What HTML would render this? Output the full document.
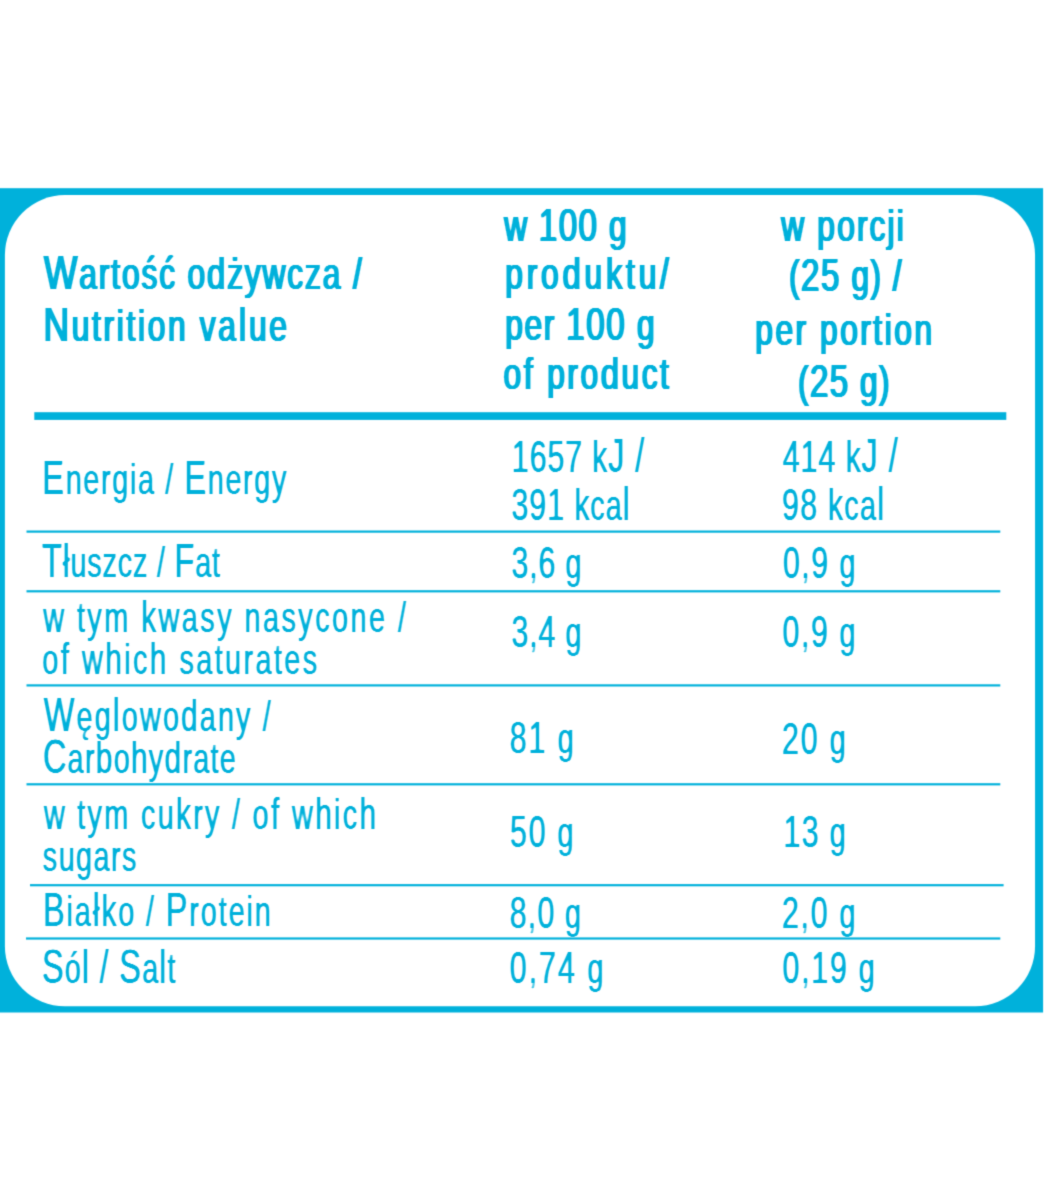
<!DOCTYPE html>
<html lang="pl">
<head>
<meta charset="utf-8">
<title>Wartość odżywcza / Nutrition value</title>
<style>
html,body{margin:0;padding:0;background:#fff;}
body{width:1044px;height:1200px;overflow:hidden;position:relative;}
svg{display:block;position:absolute;left:0;top:0;}
text{font-family:"Liberation Sans",sans-serif;font-weight:400;fill:#00b1db;}
.hd text{font-size:43.5px;}
.bd text{font-size:43px;}
</style>
</head>
<body>
<svg id="bg" width="1044" height="1200" viewBox="0 0 1044 1200">
<defs>
<filter id="soft" filterUnits="userSpaceOnUse" x="-10" y="170" width="1064" height="860" color-interpolation-filters="sRGB"><feConvolveMatrix order="3" kernelMatrix="0.0225 0.1050 0.0225 0.1050 0.4900 0.1050 0.0225 0.1050 0.0225" divisor="1" edgeMode="duplicate" preserveAlpha="false"/></filter>
<filter id="fhd" filterUnits="userSpaceOnUse" x="0" y="180" width="1044" height="840" color-interpolation-filters="sRGB"><feGaussianBlur stdDeviation="1.3 0"/><feComponentTransfer><feFuncA type="linear" slope="3.2500" intercept="-0.2800"/></feComponentTransfer><feConvolveMatrix order="3" kernelMatrix="0.0225 0.1050 0.0225 0.1050 0.4900 0.1050 0.0225 0.1050 0.0225" divisor="1" edgeMode="duplicate" preserveAlpha="false"/></filter>
<filter id="fbd" filterUnits="userSpaceOnUse" x="0" y="180" width="1044" height="840" color-interpolation-filters="sRGB"><feGaussianBlur stdDeviation="1 0"/><feComponentTransfer><feFuncA type="linear" slope="2.5000" intercept="-0.5750"/></feComponentTransfer><feConvolveMatrix order="3" kernelMatrix="0.0225 0.1050 0.0225 0.1050 0.4900 0.1050 0.0225 0.1050 0.0225" divisor="1" edgeMode="duplicate" preserveAlpha="false"/></filter>
</defs>
<rect x="0" y="0" width="1044" height="1200" fill="#fff"/>
<g id="bgsoft" filter="url(#soft)">
<g id="frame">
<rect x="-20" y="188.2" width="1063.1" height="824.3" fill="#00b1db"/>
<rect x="4.9" y="195.1" width="1030.15" height="811.1" rx="60" ry="60" fill="#fff"/>
</g>
<g id="rules" fill="#00b1db">
<rect x="34.3" y="412.2" width="972" height="7.7"/>
<rect x="26.5" y="530.5" width="973.8" height="2.2"/>
<rect x="26.5" y="590.2" width="973.8" height="2.2"/>
<rect x="26.5" y="684.3" width="973.8" height="2.2"/>
<rect x="26.5" y="783.2" width="973.8" height="2.2"/>
<rect x="30" y="884.1" width="973.6" height="2.2"/>
<rect x="26" y="937.4" width="974.3" height="2.2"/>
</g>
</g>
<g class="hd" filter="url(#fhd)">
<text id="t0" transform="translate(44.11 289.40) scale(0.7300 1)" letter-spacing="2.521"><tspan font-size="48.5">W</tspan>artość o<tspan font-size="45">d</tspan>żywcza /</text>
<text id="t1" transform="translate(43.39 341.20) scale(0.7300 1)" letter-spacing="3.659"><tspan font-size="48.5">N</tspan>utrition va<tspan font-size="46.5">l</tspan>ue</text>
<text id="t2" transform="translate(504.31 240.60) scale(0.7300 1)" letter-spacing="1.874">w <tspan font-size="45.5">100 </tspan>g</text>
<text id="t3" transform="translate(505.32 288.90) scale(0.7300 1)" letter-spacing="5.133">pro<tspan font-size="45">d</tspan>u<tspan font-size="45">k</tspan>tu/</text>
<text id="t4" transform="translate(505.32 340.00) scale(0.7300 1)" letter-spacing="2.092">per <tspan font-size="45.5">100 </tspan>g</text>
<text id="t5" transform="translate(503.62 388.60) scale(0.7300 1)" letter-spacing="3.477">o<tspan font-size="45">f </tspan>pro<tspan font-size="45">d</tspan>uct</text>
<text id="t6" transform="translate(781.37 240.60) scale(0.7300 1)" letter-spacing="2.907">w porcji</text>
<text id="t7" transform="translate(789.02 290.80) scale(0.7300 1)" letter-spacing="1.963">(<tspan font-size="45.5">25 </tspan>g) /</text>
<text id="t8" transform="translate(755.32 345.00) scale(0.7300 1)" letter-spacing="3.415">per portion</text>
<text id="t9" transform="translate(798.02 397.10) scale(0.7300 1)" letter-spacing="1.779">(<tspan font-size="45.5">25 </tspan>g)</text>
</g>
<g class="bd" filter="url(#fbd)">
<text id="t10" transform="translate(42.35 494.40) scale(0.6750 1)" letter-spacing="2.291"><tspan font-size="48.3">E</tspan>nergia / <tspan font-size="48.3">E</tspan>nergy</text>
<text id="t11" transform="translate(511.83 471.70) scale(0.6750 1)" letter-spacing="1.246"><tspan font-size="45.2">1657 </tspan><tspan font-size="44.5">k</tspan><tspan font-size="48.3">J /</tspan></text>
<text id="t12" transform="translate(511.44 520.30) scale(0.6750 1)" letter-spacing="1.326"><tspan font-size="45.2">391 </tspan><tspan font-size="44.5">k</tspan>ca<tspan font-size="46.5">l</tspan></text>
<text id="t13" transform="translate(782.67 471.70) scale(0.6750 1)" letter-spacing="1.353"><tspan font-size="45.2">414 </tspan><tspan font-size="44.5">k</tspan><tspan font-size="48.3">J /</tspan></text>
<text id="t14" transform="translate(782.01 520.30) scale(0.6750 1)" letter-spacing="1.764"><tspan font-size="45.2">98 </tspan><tspan font-size="44.5">k</tspan>ca<tspan font-size="46.5">l</tspan></text>
<text id="t15" transform="translate(42.12 576.60) scale(0.6750 1)" letter-spacing="1.062"><tspan font-size="48.3">T</tspan><tspan font-size="46.5">ł</tspan>uszcz / <tspan font-size="48.3">F</tspan>at</text>
<text id="t16" transform="translate(511.44 578.00) scale(0.6750 1)" letter-spacing="1.194"><tspan font-size="45.2">3,6 </tspan>g</text>
<text id="t17" transform="translate(782.90 578.00) scale(0.6750 1)" letter-spacing="2.151"><tspan font-size="45.2">0,9 </tspan>g</text>
<text id="t18" transform="translate(43.21 632.40) scale(0.6750 1)" letter-spacing="3.488">w tym <tspan font-size="44.5">k</tspan>wasy nasycone /</text>
<text id="t19" transform="translate(42.32 673.70) scale(0.6750 1)" letter-spacing="3.403">o<tspan font-size="44.5">f </tspan>w<tspan font-size="44.5">h</tspan>ic<tspan font-size="44.5">h </tspan>saturates</text>
<text id="t20" transform="translate(511.44 647.40) scale(0.6750 1)" letter-spacing="1.194"><tspan font-size="45.2">3,4 </tspan>g</text>
<text id="t21" transform="translate(782.54 647.40) scale(0.6750 1)" letter-spacing="2.284"><tspan font-size="45.2">0,9 </tspan>g</text>
<text id="t22" transform="translate(43.81 731.40) scale(0.6750 1)" letter-spacing="2.965"><tspan font-size="48.3">W</tspan>ęg<tspan font-size="46.5">l</tspan>owo<tspan font-size="44.5">d</tspan>any /</text>
<text id="t23" transform="translate(42.88 773.20) scale(0.6750 1)" letter-spacing="1.748"><tspan font-size="48.3">C</tspan>ar<tspan font-size="44.5">b</tspan>o<tspan font-size="44.5">h</tspan>y<tspan font-size="44.5">d</tspan>rate</text>
<text id="t24" transform="translate(509.78 753.20) scale(0.6750 1)" letter-spacing="2.721"><tspan font-size="45.2">81 </tspan>g</text>
<text id="t25" transform="translate(781.92 753.60) scale(0.6750 1)" letter-spacing="2.651"><tspan font-size="45.2">20 </tspan>g</text>
<text id="t26" transform="translate(43.92 829.10) scale(0.6750 1)" letter-spacing="3.262">w tym cu<tspan font-size="44.5">k</tspan>ry / o<tspan font-size="44.5">f </tspan>w<tspan font-size="44.5">h</tspan>ic<tspan font-size="44.5">h</tspan></text>
<text id="t27" transform="translate(42.86 871.00) scale(0.6750 1)" letter-spacing="1.914">sugars</text>
<text id="t28" transform="translate(509.98 847.30) scale(0.6750 1)" letter-spacing="2.510"><tspan font-size="45.2">50 </tspan>g</text>
<text id="t29" transform="translate(783.49 847.30) scale(0.6750 1)" letter-spacing="1.877"><tspan font-size="45.2">13 </tspan>g</text>
<text id="t30" transform="translate(42.92 925.70) scale(0.6750 1)" letter-spacing="2.675"><tspan font-size="48.3">B</tspan>ia<tspan font-size="46.5">ł</tspan><tspan font-size="44.5">k</tspan>o / <tspan font-size="48.3">P</tspan>rotein</text>
<text id="t31" transform="translate(509.78 927.60) scale(0.6750 1)" letter-spacing="1.647"><tspan font-size="45.2">8,0 </tspan>g</text>
<text id="t32" transform="translate(781.92 927.60) scale(0.6750 1)" letter-spacing="2.512"><tspan font-size="45.2">2,0 </tspan>g</text>
<text id="t33" transform="translate(41.95 983.30) scale(0.6750 1)" letter-spacing="1.576"><tspan font-size="48.3">S</tspan>ó<tspan font-size="46.5">l / </tspan><tspan font-size="48.3">S</tspan>a<tspan font-size="46.5">l</tspan>t</text>
<text id="t34" transform="translate(509.70 982.80) scale(0.6750 1)" letter-spacing="2.951"><tspan font-size="45.2">0,74 </tspan>g</text>
<text id="t35" transform="translate(782.54 982.80) scale(0.6750 1)" letter-spacing="2.468"><tspan font-size="45.2">0,19 </tspan>g</text>
</g>
</svg>
</body>
</html>
